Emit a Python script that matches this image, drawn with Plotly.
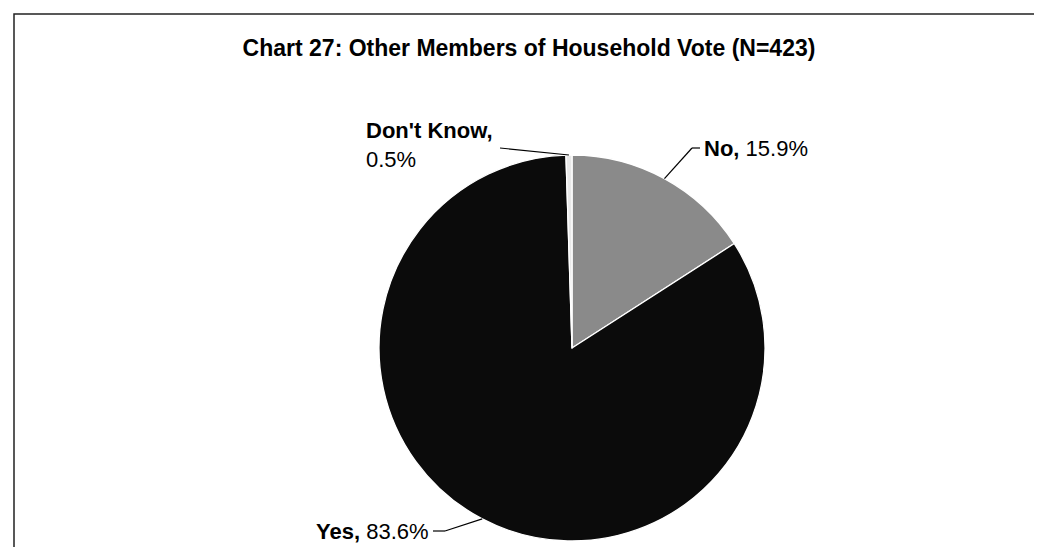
import math
import plotly.graph_objects as go

# ---- data ----
labels = ["No", "Yes", "Don't Know"]
values = [15.9, 83.6, 0.5]
colors = ["#8a8a8a", "#0b0b0b", "#e8e8e8"]
title_text = "Chart 27: Other Members of Household Vote (N=423)"

# ---- layout constants (pixels) ----
W, H = 1042, 547
cx, cy, r = 564, 340, 193
FONT = "Liberation Sans, Arial, sans-serif"

def px(x):
    return x / W

def py(y):
    return 1 - y / H

fig = go.Figure(go.Pie(
    labels=labels, values=values, sort=False, direction="clockwise", rotation=0,
    marker=dict(colors=colors, line=dict(color="#ffffff", width=1.3)),
    textinfo="none", hoverinfo="label+percent", showlegend=False,
    domain=dict(x=[px(cx - r), px(cx + r)], y=[py(cy + r), py(cy - r)]),
))

total = sum(values)
mids = {}
acc = 0.0
for lab, v in zip(labels, values):
    mids[lab] = (acc + v / 2) / total * 2 * math.pi
    acc += v

def edge(lab, extra=0):
    t = mids[lab]
    return cx + (r + extra) * math.sin(t), cy - (r + extra) * math.cos(t)

placement = {
    "Don't Know": dict(elbow=[(492, 140)], tx=487, ty=137, xanchor="right", br=True),
    "No": dict(elbow=[(684, 140), (692, 140)], tx=694, ty=141, xanchor="left", br=False),
    "Yes": dict(elbow=[(437, 523), (425, 523)], tx=423, ty=523, xanchor="right", br=False),
}

shapes = []
annotations = []
for lab, v in zip(labels, values):
    p = placement[lab]
    pts = [edge(lab)] + p["elbow"]
    for (x0, y0), (x1, y1) in zip(pts[:-1], pts[1:]):
        shapes.append(dict(type="line", xref="paper", yref="paper",
                           x0=px(x0), y0=py(y0), x1=px(x1), y1=py(y1),
                           line=dict(color="#000000", width=1.2)))
    sep = "<br>" if p["br"] else " "
    txt = f"<b>{lab},</b>{sep}{v:.1f}%"
    annotations.append(dict(text=txt, xref="paper", yref="paper",
                            x=px(p["tx"]), y=py(p["ty"]), xanchor=p["xanchor"],
                            yanchor="middle", align="left", showarrow=False,
                            font=dict(family=FONT, size=22, color="#000000")))

shapes.append(dict(type="rect", xref="paper", yref="paper",
                   x0=px(6), y0=py(560), x1=px(1040), y1=py(6),
                   line=dict(color="#222222", width=1.5)))

fig.update_layout(
    width=W, height=H,
    margin=dict(l=0, r=0, t=0, b=0),
    paper_bgcolor="#ffffff", plot_bgcolor="#ffffff",
    title=dict(text=f"<b>{title_text}</b>", x=0.5, xanchor="center",
               y=py(40), yanchor="middle",
               font=dict(family=FONT, size=23, color="#000000")),
    shapes=shapes, annotations=annotations,
)

fig.write_html("out.html")
